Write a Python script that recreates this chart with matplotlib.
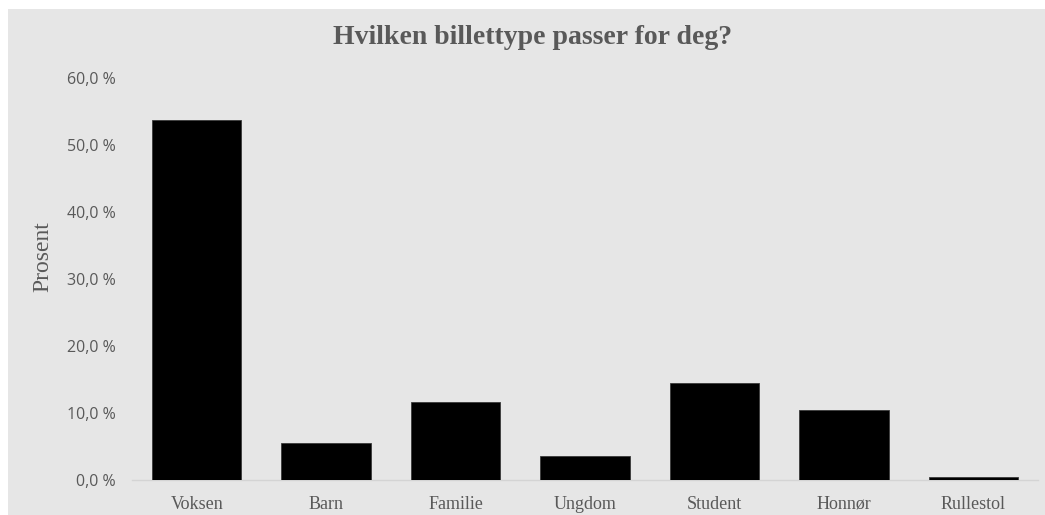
import matplotlib.pyplot as plt
from matplotlib.patches import Rectangle
from matplotlib.ticker import FuncFormatter

categories = ['Voksen', 'Barn', 'Familie', 'Ungdom', 'Student', 'Honnør', 'Rullestol']
percent = [53.7, 5.5, 11.6, 3.6, 14.5, 10.4, 0.4]
yticks = [0, 10, 20, 30, 40, 50, 60]

grey_bg = '#e6e6e6'
text_col = '#595959'

fig = plt.figure(figsize=(10.45, 5.15), dpi=100)
fig.patch.set_facecolor('white')
fig.patches.append(Rectangle((8 / 1045, 0), 1 - 8 / 1045, 1 - 9 / 515,
                             transform=fig.transFigure, facecolor=grey_bg,
                             edgecolor='none', zorder=-5))

ax = fig.add_axes([132 / 1045, 35 / 515, 906 / 1045, 402 / 515])
ax.set_facecolor('none')

x = range(len(categories))
ax.bar(x, percent, width=0.69, color='black', edgecolor='#3a3a3a', linewidth=0.6, zorder=3)

ax.set_xlim(-0.5, len(categories) - 0.5)
ax.set_ylim(0, 60)
ax.set_yticks(yticks)
ax.yaxis.set_major_formatter(FuncFormatter(lambda v, p: f'{v:.1f} %'.replace('.', ',')))
ax.set_xticks(list(x))
ax.set_xticklabels(categories, family='Liberation Serif', fontsize=13, color=text_col)

for s in ['top', 'right', 'left']:
    ax.spines[s].set_visible(False)
ax.spines['bottom'].set_color('#d4d4d4')
ax.spines['bottom'].set_linewidth(1)

ax.tick_params(axis='y', length=0, pad=11.5, labelsize=11.5, labelcolor=text_col)
ax.tick_params(axis='x', length=0, pad=11.5)
for lab in ax.get_yticklabels():
    lab.set_family('Open Sans')

fig.text(43 / 1045, 1 - 257 / 515, 'Prosent', rotation=90, ha='center', va='center',
         family='Liberation Serif', fontsize=17, color=text_col)
fig.text(533 / 1045, 1 - 38 / 515, 'Hvilken billettype passer for deg?', ha='center', va='center',
         family='Liberation Serif', fontweight='bold', fontsize=20, color=text_col)

fig.savefig('out.png', dpi=100)
